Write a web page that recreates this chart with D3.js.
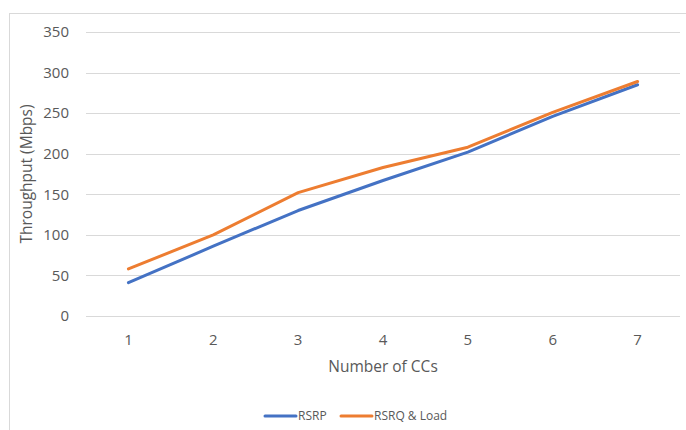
<!DOCTYPE html>
<html>

<head>
    <meta charset="utf-8">
    <style>
        body {
            margin: 0;
            background: white;
        }

        svg {
            font-family: 'Open Sans', 'Noto Sans', Arial, sans-serif;
            display: block;
        }
    </style>
</head>

<body>
    <svg width="686" height="430"></svg>
</body>

<script src="https://d3js.org/d3.v7.min.js"></script>

<script>
    // data
    let ccs = [1, 2, 3, 4, 5, 6, 7]
    let rsrp = [41, 86, 130, 167, 202, 246, 285]
    let rsrqLoad = [58, 100, 152, 183, 208, 251, 289]
    let yTicks = [0, 50, 100, 150, 200, 250, 300, 350]

    let series = [
        { name: "RSRP", values: rsrp, color: "#4472C4" },
        { name: "RSRQ & Load", values: rsrqLoad, color: "#ED7D31" }
    ]

    let svg = d3.select("svg")

    // chart frame (cut at right and bottom)
    svg.append("rect")
        .attr("x", 9.5)
        .attr("y", 13.5)
        .attr("width", 700)
        .attr("height", 450)
        .attr("fill", "none")
        .attr("stroke", "#d9d9d9")

    let plotLeft = 86, plotRight = 680, plotTop = 32, plotBottom = 316

    let x = d3.scalePoint()
        .domain(ccs)
        .range([plotLeft, plotRight])
        .padding(0.5)

    let y = d3.scaleLinear()
        .domain([0, 350])
        .range([plotBottom, plotTop])

    // gridlines
    svg.append("g")
        .selectAll("line")
        .data(yTicks)
        .join("line")
        .attr("x1", plotLeft)
        .attr("x2", plotRight)
        .attr("y1", d => Math.round(y(d)) + 0.5)
        .attr("y2", d => Math.round(y(d)) + 0.5)
        .attr("stroke", "#d9d9d9")
        .attr("stroke-width", 1)

    // y tick labels
    svg.append("g")
        .selectAll("text")
        .data(yTicks)
        .join("text")
        .attr("x", 69)
        .attr("y", d => y(d))
        .attr("dy", "0.35em")
        .attr("text-anchor", "end")
        .attr("fill", "#595959")
        .style("font-size", "15px")
        .text(d => d)

    // x tick labels
    svg.append("g")
        .selectAll("text")
        .data(ccs)
        .join("text")
        .attr("x", d => x(d))
        .attr("y", 345)
        .attr("text-anchor", "middle")
        .attr("fill", "#595959")
        .style("font-size", "15px")
        .text(d => d)

    // axis titles
    svg.append("text")
        .attr("x", 383)
        .attr("y", 372)
        .attr("text-anchor", "middle")
        .attr("fill", "#595959")
        .style("font-size", "15.5px")
        .text("Number of CCs")

    svg.append("text")
        .attr("transform", "translate(32,174) rotate(-90)")
        .attr("text-anchor", "middle")
        .attr("fill", "#595959")
        .style("font-size", "15.5px")
        .text("Throughput (Mbps)")

    // lines
    let line = d3.line()
        .x((d, i) => x(ccs[i]))
        .y(d => y(d))

    svg.append("g")
        .selectAll("path")
        .data(series)
        .join("path")
        .attr("d", d => line(d.values))
        .attr("fill", "none")
        .attr("stroke", d => d.color)
        .attr("stroke-width", 3)
        .attr("stroke-linecap", "round")
        .attr("stroke-linejoin", "round")

    // legend
    let legendX = [265, 341]
    let legend = svg.append("g")
        .selectAll("g")
        .data(series)
        .join("g")
        .attr("transform", (d, i) => `translate(${legendX[i]},416)`)

    legend.append("line")
        .attr("x1", 0)
        .attr("x2", 31)
        .attr("stroke", d => d.color)
        .attr("stroke-width", 3)
        .attr("stroke-linecap", "round")

    legend.append("text")
        .attr("x", 33)
        .attr("dy", "0.35em")
        .attr("fill", "#595959")
        .style("font-size", "12px")
        .text(d => d.name)
</script>

</html>
